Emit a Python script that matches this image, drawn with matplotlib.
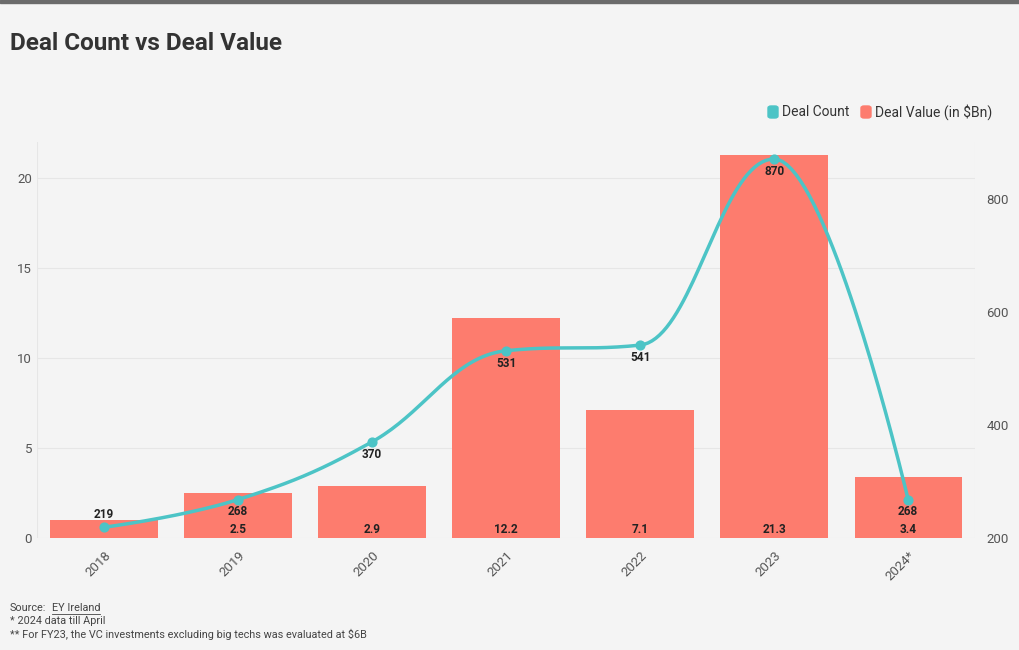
import matplotlib.pyplot as plt
import numpy as np
from matplotlib.patches import FancyBboxPatch

plt.rcParams['font.family'] = ['Roboto', 'DejaVu Sans']

years = ['2018', '2019', '2020', '2021', '2022', '2023', '2024*']
deal_value = [1.0, 2.5, 2.9, 12.2, 7.1, 21.3, 3.4]
deal_value_labels = ['', '2.5', '2.9', '12.2', '7.1', '21.3', '3.4']
deal_count = [219, 268, 370, 531, 541, 870, 268]

bar_color = '#fd7c6e'
line_color = '#4cc4c6'
bg = '#f4f4f4'


def spline_path(x, y, n=40, smoothing=1.5):
    # smooth curve through the points (spline style with no false extremes)
    x = np.asarray(x, float)
    y = np.asarray(y, float)
    m = len(x)
    lc = [(x[i], y[i]) for i in range(m)]
    rc = [(x[i], y[i]) for i in range(m)]
    d = smoothing + 1
    for i in range(1, m - 1):
        lx = (smoothing * x[i] + x[i - 1]) / d
        ly = (smoothing * y[i] + y[i - 1]) / d
        rx = (smoothing * x[i] + x[i + 1]) / d
        ry = (smoothing * y[i] + y[i + 1]) / d
        corr = (ry - ly) * (rx - x[i]) / (rx - lx) + y[i] - ry
        ly += corr
        ry += corr
        if ly > y[i - 1] and ly > y[i]:
            ly = max(y[i - 1], y[i]); ry = 2 * y[i] - ly
        elif ly < y[i - 1] and ly < y[i]:
            ly = min(y[i - 1], y[i]); ry = 2 * y[i] - ly
        if ry > y[i + 1] and ry > y[i]:
            ry = max(y[i + 1], y[i]); ly = 2 * y[i] - ry
        elif ry < y[i + 1] and ry < y[i]:
            ry = min(y[i + 1], y[i]); ly = 2 * y[i] - ry
        lc[i] = (lx, ly)
        rc[i] = (rx, ry)
    t = np.linspace(0, 1, n)[:, None]
    pts = []
    for i in range(m - 1):
        p0 = np.array([x[i], y[i]])
        p1 = np.array(rc[i])
        p2 = np.array(lc[i + 1])
        p3 = np.array([x[i + 1], y[i + 1]])
        seg = ((1 - t) ** 3) * p0 + 3 * ((1 - t) ** 2) * t * p1 \
            + 3 * (1 - t) * t ** 2 * p2 + t ** 3 * p3
        pts.append(seg)
    pts = np.vstack(pts)
    return pts[:, 0], pts[:, 1]


fig = plt.figure(figsize=(10.2, 6.5), dpi=100, facecolor=bg)
ax = fig.add_axes([0.0363, 0.1723, 0.9197, 0.6092])
ax.set_facecolor(bg)
x = np.arange(len(years))

ax.bar(x, deal_value, width=0.8, color=bar_color, zorder=2)
ax.set_xlim(-0.5, len(years) - 0.5)
ax.set_ylim(0, 22)
ax.set_yticks([0, 5, 10, 15, 20])
ax.grid(axis='y', color='#e6e6e6', linewidth=0.8, zorder=0)
ax.set_xticks(x)
ax.set_xticklabels(years, rotation=45, ha='right', rotation_mode='anchor')
ax.tick_params(axis='both', length=0, labelsize=9.5, labelcolor='#555555')
ax.tick_params(axis='x', pad=8)
for s in ax.spines.values():
    s.set_visible(False)
ax.axvline(-0.5, color='#e6e6e6', lw=0.8, zorder=0)
ax.axvline(len(years) - 0.5, color='#e6e6e6', lw=0.8, zorder=0)

for xi, lab in zip(x, deal_value_labels):
    if lab:
        ax.text(xi, 0.5, lab, ha='center', va='center', fontsize=8.5,
                fontweight='bold', color='#222222', zorder=5)

ax2 = ax.twinx()
ax2.set_ylim(200, 900)
ax2.set_yticks([200, 400, 600, 800])
ax2.tick_params(axis='y', length=0, labelsize=9.5, labelcolor='#555555', pad=8)
for s in ax2.spines.values():
    s.set_visible(False)
sx, sy = spline_path(x, deal_count)
ax2.plot(sx, sy, color=line_color, lw=2.5, zorder=3, solid_capstyle='round')
ax2.scatter(x, deal_count, s=40, color=line_color, zorder=4)
for i, (xi, v) in enumerate(zip(x, deal_count)):
    off = 22 if i == 0 else -22
    ax2.text(xi, v + off, str(v), ha='center', va='center', fontsize=8.5,
             fontweight='bold', color='#222222', zorder=5)

# top bar and title
fig.patches.append(plt.Rectangle((0, 1 - 3 / 650), 1, 3 / 650, transform=fig.transFigure,
                                 color='#6b6b6b'))
fig.text(10 / 1020, 1 - 44 / 650, 'Deal Count vs Deal Value', fontsize=17.5,
         fontweight='bold', color='#333333', va='center')

# legend
for (lx, txt, c) in [(768, 'Deal Count', line_color), (861, 'Deal Value (in $Bn)', bar_color)]:
    fig.patches.append(FancyBboxPatch((lx / 1020, 1 - 118 / 650), 10 / 1020, 12 / 650,
                                      boxstyle='round,pad=0,rounding_size=0.003',
                                      transform=fig.transFigure, color=c))
    fig.text((lx + 14) / 1020, 1 - 112 / 650, txt, fontsize=10, color='#333333',
             va='center')

# footnotes
fs = 7.8
fig.text(10 / 1020, 1 - 608 / 650, 'Source:', fontsize=fs, color='#444444', va='center')
fig.text(52 / 1020, 1 - 608 / 650, 'EY Ireland', fontsize=fs, color='#444444', va='center')
fig.lines.append(plt.Line2D([52 / 1020, 100 / 1020], [1 - 614 / 650, 1 - 614 / 650],
                            transform=fig.transFigure, color='#444444', lw=0.6))
fig.text(10 / 1020, 1 - 621 / 650, '* 2024 data till April', fontsize=fs,
         color='#444444', va='center')
fig.text(10 / 1020, 1 - 634 / 650,
         '** For FY23, the VC investments excluding big techs was evaluated at $6B',
         fontsize=fs, color='#444444', va='center')

fig.savefig('out.png', dpi=100, facecolor=bg)
